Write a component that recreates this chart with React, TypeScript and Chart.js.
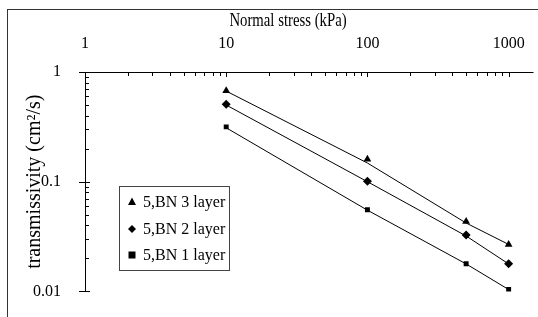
import React, { useEffect, useRef } from "react";
import { Chart, registerables } from "chart.js";

Chart.register(...registerables);

const stressPoints = [10, 100, 500, 1000];
const layer3 = [0.673, 0.16, 0.0434, 0.0268];
const layer2 = [0.508, 0.101, 0.0327, 0.0179];
const layer1 = [0.316, 0.0556, 0.0179, 0.0104];
const trendStress = [10, 100, 500, 1000];
const trend3 = [0.67, 0.148, 0.042, 0.0268];
const trend2 = [0.5, 0.1, 0.032, 0.0178];
const trend1 = [0.31, 0.055, 0.0178, 0.0104];
const seriesNames = ["5,BN 3 layer", "5,BN 2 layer", "5,BN 1 layer"];
const seriesMarkers = ["triangle", "rectRot", "rect"];
const xTickValues = [1, 10, 100, 1000];
const yTickValues = [0.01, 0.1, 1];
const xTitle = "Normal stress (kPa)";
const yTitle = "transmissivity (cm\u00B2/s)";

const FONT = "'Liberation Serif', 'Times New Roman', serif";

function drawMarker(ctx: CanvasRenderingContext2D, kind: string, x: number, y: number) {
  ctx.beginPath();
  if (kind === "triangle") {
    ctx.moveTo(x, y - 4.5);
    ctx.lineTo(x + 4, y + 3);
    ctx.lineTo(x - 4, y + 3);
  } else if (kind === "rectRot") {
    ctx.moveTo(x, y - 4);
    ctx.lineTo(x + 4, y);
    ctx.lineTo(x, y + 4);
    ctx.lineTo(x - 4, y);
  } else {
    ctx.rect(x - 3.5, y - 3.5, 7, 7);
  }
  ctx.closePath();
  ctx.fillStyle = "#000";
  ctx.fill();
}

const axesPlugin = {
  id: "axesPlugin",
  afterDraw(chart: any) {
    const ctx = chart.ctx as CanvasRenderingContext2D;
    const xs = chart.scales.x;
    const ys = chart.scales.y;
    const { left, top, bottom, right } = chart.chartArea;
    ctx.save();
    ctx.strokeStyle = "#000";
    ctx.lineWidth = 1;
    ctx.beginPath();
    ctx.moveTo(left - 6, top + 0.5);
    ctx.lineTo(right, top + 0.5);
    ctx.moveTo(left + 0.5, top);
    ctx.lineTo(left + 0.5, bottom);
    ctx.stroke();
    ctx.beginPath();
    for (const d of xTickValues) {
      for (let k = 1; k <= 9; k++) {
        const v = d * k;
        if (v > xs.max || (d === 1 && k === 1)) continue;
        const px = Math.round(xs.getPixelForValue(v)) + 0.5;
        const len = k === 1 ? 5 : 4;
        ctx.moveTo(px, top);
        ctx.lineTo(px, top + len);
      }
    }
    for (const v of yTickValues) {
      const py = Math.round(ys.getPixelForValue(v)) + 0.5;
      ctx.moveTo(left - 6, py);
      ctx.lineTo(left + 5, py);
    }
    for (const d of [0.01, 0.1]) {
      for (let k = 2; k <= 9; k++) {
        const py = Math.round(ys.getPixelForValue(d * k)) + 0.5;
        ctx.moveTo(left, py);
        ctx.lineTo(left + 4, py);
      }
    }
    ctx.stroke();

    // x title (condensed serif)
    ctx.save();
    ctx.fillStyle = "#000";
    ctx.font = '18px "Liberation Serif"';
    ctx.textAlign = "center";
    ctx.textBaseline = "middle";
    ctx.translate(288, 21);
    ctx.scale(0.82, 1);
    ctx.fillText(xTitle, 0, 0);
    ctx.restore();

    // legend
    const bx = 119.5, by = 186.5, bw = 110, bh = 84;
    ctx.fillStyle = "#fff";
    ctx.fillRect(bx, by, bw, bh);
    ctx.strokeStyle = "#444";
    ctx.strokeRect(bx, by, bw, bh);
    ctx.font = `16px ${FONT}`;
    ctx.textBaseline = "middle";
    ctx.textAlign = "left";
    const rows = [202, 229, 255];
    seriesNames.forEach((name, i) => {
      drawMarker(ctx, seriesMarkers[i], 132, rows[i]);
      ctx.fillStyle = "#000";
      ctx.fillText(name, 143, rows[i] + 1);
    });
    ctx.restore();
  },
};

export default function App() {
  const canvasRef = useRef<HTMLCanvasElement>(null);

  useEffect(() => {
    if (!canvasRef.current) return;
    const toPts = (xsArr: number[], ysArr: number[]) => xsArr.map((x, i) => ({ x, y: ysArr[i] }));
    const pointSets = [layer3, layer2, layer1];
    const trendSets = [trend3, trend2, trend1];
    const datasets: any[] = [];
    trendSets.forEach((t) => {
      datasets.push({
        data: toPts(trendStress, t),
        showLine: true,
        borderColor: "#000",
        borderWidth: 1,
        pointRadius: 0,
        fill: false,
      });
    });
    pointSets.forEach((p, i) => {
      datasets.push({
        label: seriesNames[i],
        data: toPts(stressPoints, p),
        showLine: false,
        pointStyle: seriesMarkers[i],
        pointRadius: i === 2 ? 3.5 : 4.5,
        backgroundColor: "#000",
        borderColor: "#000",
        borderWidth: 0,
      });
    });

    const chart = new Chart(canvasRef.current, {
      type: "scatter",
      data: { datasets },
      options: {
        animation: false,
        responsive: false,
        devicePixelRatio: 1,
        layout: { padding: { left: 0, right: 0, top: 0, bottom: 16 } },
        plugins: { legend: { display: false }, tooltip: { enabled: false } },
        scales: {
          x: {
            type: "logarithmic",
            position: "top",
            min: 1,
            max: 1500,
            afterBuildTicks: (s: any) => {
              s.ticks = xTickValues.map((v) => ({ value: v }));
            },
            afterFit: (s: any) => {
              s.height = 72;
            },
            ticks: {
              autoSkip: false,
              maxRotation: 0,
              padding: 11,
              color: "#000",
              font: { family: FONT, size: 16 },
              callback: (v: any) => String(v),
            },
            grid: { display: false },
            border: { display: false },
            title: { display: false },
          },
          y: {
            type: "logarithmic",
            min: 0.01,
            max: 1,
            afterBuildTicks: (s: any) => {
              s.ticks = yTickValues.map((v) => ({ value: v }));
            },
            afterFit: (s: any) => {
              s.width = 85;
            },
            ticks: {
              autoSkip: false,
              padding: 16,
              color: "#000",
              font: { family: FONT, size: 16 },
              callback: (v: any) => String(v),
            },
            grid: { display: false },
            border: { display: false },
            title: {
              display: true,
              text: yTitle,
              color: "#000",
              font: { family: FONT, size: 20 },
              padding: { top: 23, bottom: 0 },
            },
          },
        },
      },
      plugins: [axesPlugin],
    });
    return () => chart.destroy();
  }, []);

  return (
    <div style={{ position: "fixed", left: 0, top: 0, width: 538, height: 317, background: "#fff", overflow: "hidden" }}>
      <div
        style={{
          position: "absolute",
          left: 7,
          top: 9,
          width: 600,
          height: 400,
          borderLeft: "1.5px solid #333",
          borderTop: "1.5px solid #333",
        }}
      />
      <canvas ref={canvasRef} width={538} height={317} style={{ position: "absolute", left: 0, top: 0 }} />
    </div>
  );
}
